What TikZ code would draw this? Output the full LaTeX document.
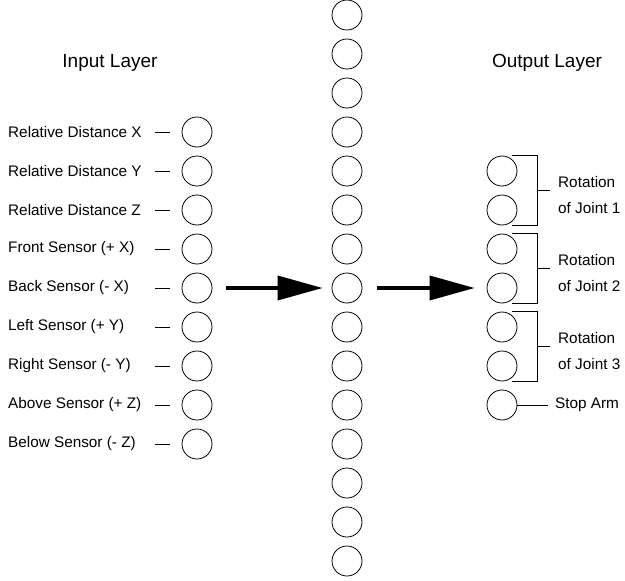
\documentclass[tikz,border=0pt]{standalone}
\usepackage{fontspec}
\setmainfont{Liberation Sans}
\usetikzlibrary{arrows.meta,positioning,calc}
\tikzset{
    % Define neuron style
    neuron/.style={
           circle,
           draw,
           line width=0.8pt,
           minimum size=30pt,
           inner sep=0pt,
           },
    % Define text styles
    lbl/.style={
           anchor=west,
           inner sep=0pt,
           font=\fontsize{15.3}{26}\selectfont,
           },
    head/.style={
           font=\fontsize{19}{22}\selectfont,
           },
    % Define arrow style
    pil/.style={
           -{Triangle[length=45pt,width=24pt]},
           line width=3.6pt,
           },
    brk/.style={
           line width=0.8pt,
           }
}

\begin{document}
\begin{tikzpicture}[x=1pt,y=-1pt]
  	\useasboundingbox (0,0) rectangle (625,581);
  	\node[head] (inhead) at (110,63) {Input Layer};
  	\node[head] (outhead) at (547,63) {Output Layer};
  	% input layer
  	\foreach \txt [count=\i] in {Relative Distance X,Relative Distance Y,Relative Distance Z,Front Sensor (+ X),Back Sensor (- X),Left Sensor (+ Y),Right Sensor (- Y),Above Sensor (+ Z),Below Sensor (- Z)}{
  		\node[neuron] (in\i) at (197,{132+(\i-1)*39}) {};
  		\node[lbl] (lab\i) at (8,{132+(\i-1)*39}) {\txt};
  		\draw[brk] (in\i.west) ++(-12,0) -- ++(-15,0);
  	}
  	% hidden layer
  	\foreach \i in {1,...,15}
  		\node[neuron] (hid\i) at (347,{15+(\i-1)*39}) {};
  	% output layer
  	\foreach \i in {1,...,7}
  		\node[neuron] (out\i) at (502,{171+(\i-1)*39}) {};
  	\foreach \a/\b/\k in {1/2/1,3/4/2,5/6/3}{
  		\draw[brk] ($(out\a.north)+(10,0)$) -- ++(25,0) |- ($(out\b.south)+(10,0)$);
  		\draw[brk] ($(out\a.north)!0.5!(out\b.south)+(35,0)$) coordinate (m\k) -- ++(13,0);
  		\node[lbl, align=left] (rot\k) at ($(m\k)+(21,5)$) {Rotation\\of Joint \k};
  	}
  	\node[lbl] (stop) at (555,405) {Stop Arm};
  	\draw[brk, shorten >=7pt] (out7) -- (stop);
  	% arrows between layers
  	\draw[pil, shorten <=14pt, shorten >=9pt] (in5) -- (hid8);
  	\draw[pil, shorten <=15pt, shorten >=12pt] (hid8) -- (out4);
\end{tikzpicture}
\end{document}
